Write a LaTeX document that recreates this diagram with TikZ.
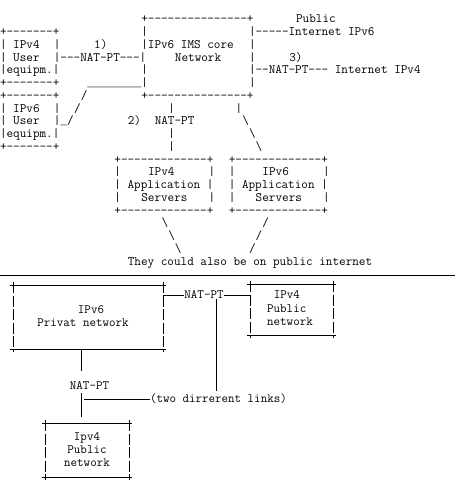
\documentclass[tikz,border=0pt]{standalone}
\usepackage{fontspec}
\newfontfamily\ulfont{Liberation Mono}
\newcommand\cwd{6.73}
\newcommand\ul[1]{{\ulfont\fontsize{11.22}{12.75}\selectfont#1}}
\newcommand\frag[4]{\node[frag] (#1) at ({#2*\cwd},{19+12.75*#3+3.8}) {#4};}
\newcommand\asciibox[1]{%
  \draw[rule] ([xshift=-3pt]#1.north west) -- ([xshift=3pt]#1.north east);
  \draw[rule] ([xshift=-3pt]#1.south west) -- ([xshift=3pt]#1.south east);
  \draw[vside] ([yshift=3pt]#1.north west) -- ([yshift=-3pt]#1.south west);
  \draw[vside] ([yshift=3pt]#1.north east) -- ([yshift=-3pt]#1.south east);}
\tikzset{
  frag/.style={anchor=base west, inner sep=0pt, outer sep=0pt,
    font=\ttfamily\fontsize{12.82}{12.75}\selectfont},
  btxt/.style={inner sep=0pt, outer sep=0pt,
    font=\ttfamily\fontsize{12.65}{13}\selectfont},
  netbox/.style={draw=none, inner sep=0pt, outer sep=0pt},
  rule/.style={line width=0.8pt},
  vside/.style={line width=0.8pt, dash pattern=on 11pt off 2.5pt},
}
\begin{document}
\begin{tikzpicture}[x=1pt,y=-1pt]
\fill[white] (0,0) rectangle (458,494);
\useasboundingbox (0,0) rectangle (458,494);
% ---------- upper ASCII part ----------
\frag{r0a}{21}{0}{+---------------+}
\frag{r0b}{44}{0}{Public}
\frag{r1a}{0}{1}{+-------+}
\frag{r1b}{21}{1}{|}
\frag{r1c}{37}{1}{|-----Internet IPv6}
\frag{r2a}{0}{2}{| IPv4}
\frag{r2b}{8}{2}{|}
\frag{r2c}{14}{2}{1)}
\frag{r2d}{21}{2}{|IPv6 IMS core}
\frag{r2e}{37}{2}{|}
\frag{r3a}{0}{3}{| User}
\frag{r3b}{8}{3}{|---NAT-PT---|}
\frag{r3c}{26}{3}{Network}
\frag{r3d}{37}{3}{|}
\frag{r3e}{43}{3}{3)}
\frag{r4a}{0}{4}{|equipm.|}
\frag{r4b}{21}{4}{|}
\frag{r4c}{37}{4}{|--NAT-PT--- Internet IPv4}
\frag{r5a}{0}{5}{+-------+}
\frag{r5b}{13}{5}{\ul{\_\_\_\_\_\_\_\_}|}
\frag{r5c}{37}{5}{|}
\frag{r6a}{0}{6}{+-------+}
\frag{r6b}{12}{6}{/}
\frag{r6c}{21}{6}{+---------------+}
\frag{r7a}{0}{7}{| IPv6}
\frag{r7b}{8}{7}{|}
\frag{r7c}{11}{7}{/}
\frag{r7d}{25}{7}{|}
\frag{r7e}{35}{7}{|}
\frag{r8a}{0}{8}{| User}
\frag{r8b}{8}{8}{|\ul{\_}/}
\frag{r8c}{19}{8}{2)}
\frag{r8d}{23}{8}{NAT-PT}
\frag{r8e}{36}{8}{\textbackslash}
\frag{r9a}{0}{9}{|equipm.|}
\frag{r9b}{25}{9}{|}
\frag{r9c}{37}{9}{\textbackslash}
\frag{r10a}{0}{10}{+-------+}
\frag{r10b}{25}{10}{|}
\frag{r10c}{38}{10}{\textbackslash}
\frag{r11a}{17}{11}{+-------------+}
\frag{r11b}{34}{11}{+-------------+}
\frag{r12a}{17}{12}{|}
\frag{r12b}{22}{12}{IPv4}
\frag{r12c}{31}{12}{|}
\frag{r12d}{34}{12}{|}
\frag{r12e}{39}{12}{IPv6}
\frag{r12f}{48}{12}{|}
\frag{r13a}{17}{13}{| Application |}
\frag{r13b}{34}{13}{| Application |}
\frag{r14a}{17}{14}{|}
\frag{r14b}{21}{14}{Servers}
\frag{r14c}{31}{14}{|}
\frag{r14d}{34}{14}{|}
\frag{r14e}{38}{14}{Servers}
\frag{r14f}{48}{14}{|}
\frag{r15a}{17}{15}{+-------------+}
\frag{r15b}{34}{15}{+-------------+}
\frag{r16a}{24}{16}{\textbackslash}
\frag{r16b}{39}{16}{/}
\frag{r17a}{25}{17}{\textbackslash}
\frag{r17b}{38}{17}{/}
\frag{r18a}{26}{18}{\textbackslash}
\frag{r18b}{37}{18}{/}
\frag{r19a}{19}{19}{They could also be on public internet}
% ---------- divider ----------
\coordinate (divL) at (0,275.5);
\coordinate (divR) at (455,275.5);
\draw[rule] (divL) -- (divR);
% ---------- lower part ----------
\node[netbox, minimum width=150pt, minimum height=64pt] (v6net) at (88,317) {};
\node[btxt, align=center] (v6lbl) at (83,316.5) {\hspace*{16pt}IPv6\\Privat network};
\node[netbox, minimum width=83pt, minimum height=51pt] (v4pub) at (291.5,309.5) {};
\node[btxt, align=left, font=\ttfamily\fontsize{12.65}{13.5}\selectfont] (v4publbl) at (290,308.5) {\hspace*{6.6pt}IPv4\\Public\\network};
\node[netbox, minimum width=84pt, minimum height=54pt] (v4b) at (87,450) {};
\node[btxt, align=center] (v4blbl) at (87,450) {Ipv4\\Public\\network};
\node[btxt] (nat1) at (204,295) {NAT-PT};
\node[btxt] (nat2) at (89.5,386) {NAT-PT};
\node[btxt, anchor=west] (links) at (150,399) {(two dirrerent links)};
\asciibox{v6net}
\asciibox{v4pub}
\asciibox{v4b}
\coordinate (stem) at (81.5,0);
\coordinate (stemR) at (84,0);
\coordinate (dropEnd) at (216,391);
\coordinate (n2top) at ([yshift=11pt]nat2.north);
\coordinate (n2bot) at ([yshift=-3pt]nat2.south);
\coordinate (v4btop) at ([yshift=6pt]v4b.north);
\draw[rule] (v6net.east |- nat1.west) -- (nat1.west);
\draw[rule] (nat1.east) -- (nat1.east -| v4pub.west);
\draw[rule] (nat1.south -| dropEnd) -- (dropEnd);
\draw[rule] (v6net.south -| stem) -- (n2top -| stem);
\draw[rule] (n2bot -| stem) -- (v4btop -| stem);
\draw[rule] (links.west -| stemR) -- (links.west);
\end{tikzpicture}
\end{document}
